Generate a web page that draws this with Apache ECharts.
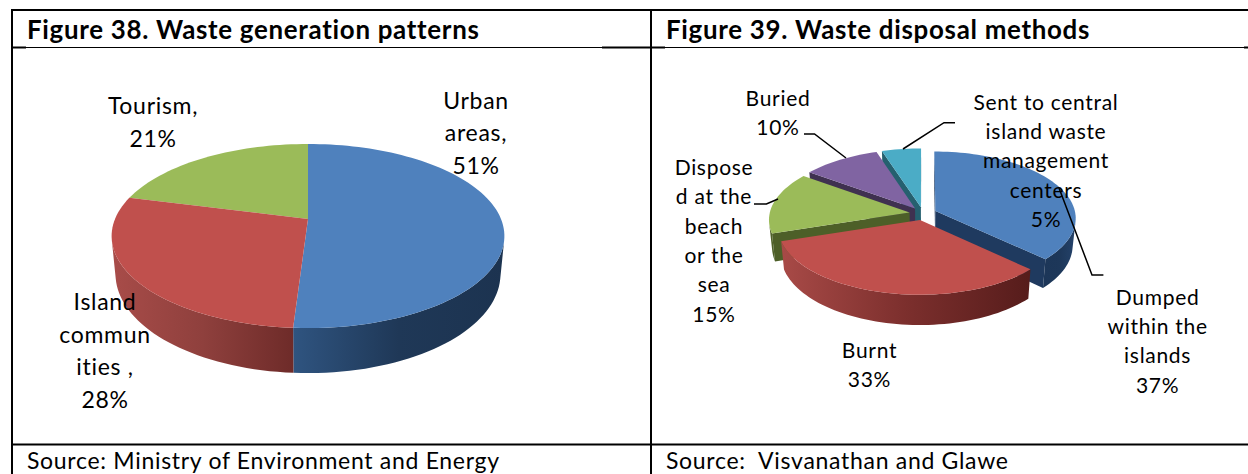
<!DOCTYPE html>
<html>
<head>
<meta charset="utf-8">
<style>html,body{margin:0;padding:0;background:#fff}#c{width:1248px;height:474px}
#c text{font-variant-ligatures:none;letter-spacing:0.7px}</style>
<script src="https://cdn.jsdelivr.net/npm/echarts@6/dist/echarts.min.js"></script>
</head>
<body>
<div id="c"></div>
<script>
// ---- data ----
const generationNames = ['Urban areas', 'Island communities', 'Tourism'];
const generationValues = [51, 28, 21];
const disposalNames = ['Dumped within the islands', 'Burnt', 'Disposed at the beach or the sea', 'Buried', 'Sent to central island waste management centers'];
const disposalValues = [37, 33, 15, 10, 5];
const generationLabels = ['Urban\nareas,\n51%', 'Island\ncommun\nities ,\n28%', 'Tourism,\n21%'];
const disposalLabels = ['Dumped\nwithin the\nislands\n37%', 'Burnt\n33%', 'Dispose\nd at the\nbeach\nor the\nsea\n15%', 'Buried\n10%', 'Sent to central\nisland waste\nmanagement\ncenters\n5%'];
const titles = ['Figure 38. Waste generation patterns', 'Figure 39. Waste disposal methods'];
const sources = ['Source: Ministry of Environment and Energy', 'Source:  Visvanathan and Glawe'];

// ---- styles and layout ----
const FONT = 'Lato';
const topColors = ['#4f81bd', '#c0504d', '#9bbb59', '#8064a2', '#4bacc6'];
const wallStops = [
  ['#2f5480', '#1f3857', '#1c3350'],
  ['#a84c49', '#8f403d', '#6e2b29'],
  ['#50622a', '#50622a', '#4a5c26'],
  ['#3f3150', '#3f3150', '#3f3150'],
  ['#25606f', '#25606f', '#25606f']
];
const cutColors = ['#1f3a5f', '#6e2a28', '#4d5f28', '#3f3150', '#25606f'];
const generationPie = { cx: 308, cy: 219, R: 193, B: 88.9, k: 0.185, D: 36.7, s: 0.98, e: 0 };
const disposalPie = { cx: 923, cy: 213.6, R: 140, B: 66, k: 0.1, D: 27, s: 0.98, e: 0.097,
  wallOverride: { 0: ['#1c3658', '#1d3759', '#24426a'], 1: ['#a84a47', '#7c2f2d', '#561c1b'] } };

function project(p, X, Z) {
  const w = 1 + p.k * Z;
  const top = [p.cx + p.R * X / w, p.cy - p.B * Z / w];
  const low = [p.cx + p.s * p.R * X / w, top[1] + p.D / w];
  return { top, low };
}
function isFront(a, b, c, d) {
  const q = [a, b, c, d];
  let area = 0;
  for (let i = 0; i < 4; i++) {
    const m = q[i], n = q[(i + 1) % 4];
    area += m[0] * n[1] - n[0] * m[1];
  }
  return area < 0;
}
function grad(stops) {
  return new echarts.graphic.LinearGradient(0, 0, 1, 0, [
    { offset: 0, color: stops[0] }, { offset: 0.5, color: stops[1] }, { offset: 1, color: stops[2] }
  ]);
}
function pieSeries(values, p) {
  const total = values.reduce((a, b) => a + b, 0);
  const mids = [];
  let acc = 0;
  values.forEach(v => { mids.push((acc + v / 2) / total * 2 * Math.PI); acc += v; });
  const rank = mids.map((m, i) => [Math.cos(m), i]).sort((a, b) => b[0] - a[0]).map(x => x[1]);
  return {
    type: 'custom',
    coordinateSystem: 'none',
    silent: true,
    animation: false,
    data: values,
    renderItem(params, api) {
      const i = params.dataIndex;
      const v = api.value(0);
      let before = 0;
      for (let n = 0; n < i; n++) before += values[n];
      const a0 = before / total * 2 * Math.PI;
      const a1 = (before + v) / total * 2 * Math.PI;
      const mid = (a0 + a1) / 2;
      const ox = p.e * Math.sin(mid), oz = p.e * Math.cos(mid);
      const steps = Math.max(8, Math.ceil((a1 - a0) / (Math.PI / 90)));
      const rim = [];
      for (let n = 0; n <= steps; n++) {
        const t = a0 + (a1 - a0) * n / steps;
        rim.push(project(p, ox + Math.sin(t), oz + Math.cos(t)));
      }
      const apex = project(p, ox, oz);
      const base = rank.indexOf(i) * 10 + 10;
      const children = [];
      // radial cut faces, only seen when the slices are pulled apart
      const first = rim[0], last = rim[rim.length - 1];
      if (p.e > 0) {
        [[apex, first], [last, apex]].forEach(pair => {
          if (isFront(pair[0].top, pair[1].top, pair[1].low, pair[0].low)) {
            children.push({
              type: 'polygon', z2: base,
              shape: { points: [pair[0].top, pair[1].top, pair[1].low, pair[0].low] },
              style: { fill: cutColors[i] }
            });
          }
        });
      }
      // outer wall: contiguous camera-facing stretch of the rim
      let topEdge = [], lowEdge = [];
      for (let n = 0; n < steps; n++) {
        const m = rim[n], q = rim[n + 1];
        if (isFront(m.top, q.top, q.low, m.low)) {
          if (!topEdge.length) { topEdge.push(m.top); lowEdge.push(m.low); }
          topEdge.push(q.top); lowEdge.push(q.low);
        }
      }
      if (topEdge.length) {
        const stops = (p.wallOverride && p.wallOverride[i]) || wallStops[i];
        children.push({
          type: 'polygon', z2: base + 1,
          shape: { points: topEdge.concat(lowEdge.slice().reverse()) },
          style: { fill: grad(stops) }
        });
      }
      // top face
      children.push({
        type: 'polygon', z2: base + 2,
        shape: { points: [apex.top].concat(rim.map(r => r.top)) },
        style: { fill: topColors[i] }
      });
      return { type: 'group', children };
    }
  };
}

const INK = '#000';
function line(points, width) {
  return { type: 'polyline', silent: true, z: 20, shape: { points }, style: { stroke: INK, lineWidth: width, fill: null } };
}
function text(str, x, y, size, weight, align, lh) {
  return { type: 'text', silent: true, z: 30, x, y,
    style: { text: str, fill: INK,
      fontFamily: FONT, fontSize: size, fontWeight: weight || 'normal',
      align: align || 'center', verticalAlign: 'top', lineHeight: lh } };
}
const frame = [
  [[11, 10], [1248, 10]], [[12, 10], [12, 474]], [[651, 10], [651, 474]], [[11, 444.5], [1248, 444.5]]
].map(s => line(s, 2));
const headerRule = [line([[12, 47.5], [1248, 47.5]], 1), line([[11, 47.5], [26, 47.5]], 2),
  line([[602, 47.5], [665, 47.5]], 2), line([[1244, 47.5], [1248, 47.5]], 2)];
const leaders = [
  [[804, 134], [814.5, 134], [846, 158]],
  [[955, 122.7], [944, 122.7], [903, 149]],
  [[754, 204], [766.4, 204], [778, 199]],
  [[1103.4, 275], [1092, 275], [1059, 188]]
].map(s => line(s, 1.5));

const LEFT_SIZE = 23, LEFT_LH = 32.5, RIGHT_SIZE = 21, RIGHT_LH = 29.3;
const leftPos = [[476, 83.5], [105, 285], [153, 89]];
const rightPos = [[1157.6, 281.5], [869.5, 335], [714, 152], [778, 83], [1046, 86.5]];
const texts = [
  text(titles[0], 27, 14, 25.9, 'bold', 'left', 30),
  text(titles[1], 666, 14, 25.9, 'bold', 'left', 30),
  text(sources[0], 27, 448, 23, 'normal', 'left', 24),
  text(sources[1], 666, 448, 23, 'normal', 'left', 24)
].concat(
  generationLabels.map((t, i) => text(t, leftPos[i][0], leftPos[i][1], LEFT_SIZE, 'normal', 'center', LEFT_LH)),
  disposalLabels.map((t, i) => text(t, rightPos[i][0], rightPos[i][1], RIGHT_SIZE, 'normal', 'center', RIGHT_LH))
);

const chart = echarts.init(document.getElementById('c'), null, { renderer: 'svg' });
chart.setOption({
  animation: false,
  backgroundColor: '#ffffff',
  series: [pieSeries(generationValues, generationPie), pieSeries(disposalValues, disposalPie)],
  graphic: { elements: frame.concat(headerRule, leaders, texts) }
});
</script>
</body>
</html>
